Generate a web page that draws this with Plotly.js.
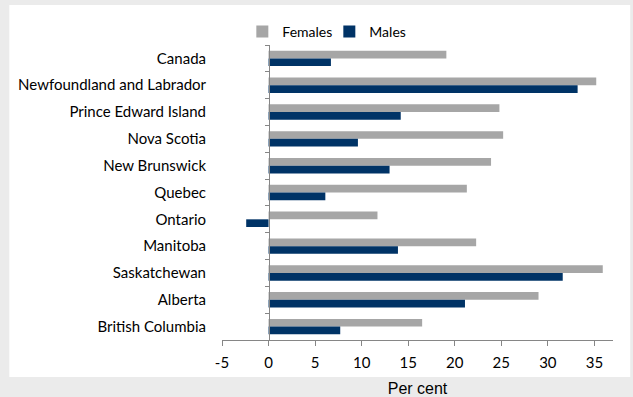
<!DOCTYPE html>
<html>
<head>
<meta charset="utf-8">
<script src="https://cdn.plot.ly/plotly-3.0.1.min.js"></script>
<style>
  html, body { margin: 0; padding: 0; background: #ebebeb; }
  #chart { width: 633px; height: 397px; }
</style>
</head>
<body>
<div id="chart"></div>
<script>
// Provinces, top to bottom
const categories = [
  "Canada",
  "Newfoundland and Labrador",
  "Prince Edward Island",
  "Nova Scotia",
  "New Brunswick",
  "Quebec",
  "Ontario",
  "Manitoba",
  "Saskatchewan",
  "Alberta",
  "British Columbia"
];

// Per cent values
const females = [19.1, 35.2, 24.8, 25.2, 23.9, 21.3, 11.7, 22.3, 35.9, 29.0, 16.5];
const males   = [6.7, 33.2, 14.2, 9.6, 13.0, 6.1, -2.4, 13.9, 31.6, 21.1, 7.7];

// Axis settings
const xRange = [-5, 37];
const xTicks = [-5, 0, 5, 10, 15, 20, 25, 30, 35];

const labelFont = { family: "Lato, 'Open Sans', sans-serif", size: 15, color: "#000" };
const legendFont = { family: "Lato, 'Open Sans', sans-serif", size: 14, color: "#000" };
const axisColor = "#868686";

// Category boundaries for the tick marks on the zero line
const boundaries = [];
for (let i = 0; i <= categories.length; i++) boundaries.push(i - 0.5);

// Position of x = 0 as a fraction of the plot width
const zeroPos = (0 - xRange[0]) / (xRange[1] - xRange[0]);

const traces = [
  {
    type: "bar", orientation: "h", name: "Females",
    y: categories, x: females,
    marker: { color: "#a6a6a6" },
    hoverinfo: "x+y"
  },
  {
    type: "bar", orientation: "h", name: "Males",
    y: categories, x: males,
    marker: { color: "#003366" },
    hoverinfo: "x+y"
  },
  {
    // carries the zero-line axis
    type: "scatter", mode: "none", x: [], y: [],
    yaxis: "y2", showlegend: false, hoverinfo: "skip"
  }
];

const layout = {
  width: 633, height: 397,
  margin: { l: 222, r: 20, t: 45, b: 57, pad: 0 },
  paper_bgcolor: "#ebebeb",
  plot_bgcolor: "#ffffff",
  barmode: "group",
  bargap: 0.425,
  bargroupgap: 0,
  showlegend: true,
  legend: {
    orientation: "h", traceorder: "normal",
    x: 0.052, xanchor: "left", y: 1.044, yanchor: "middle",
    font: legendFont, bgcolor: "rgba(0,0,0,0)",
    itemwidth: 30, entrywidth: 42, entrywidthmode: "pixels"
  },
  xaxis: {
    range: xRange, tickvals: xTicks, ticktext: xTicks.map(String),
    showgrid: false, zeroline: false,
    showline: true, linecolor: axisColor, linewidth: 1,
    ticks: "outside", ticklen: 5, tickcolor: axisColor,
    tickfont: labelFont, ticklabelstandoff: 4,
    title: { text: "Per cent", font: { family: "'Liberation Sans', Arial, sans-serif", size: 16, color: "#000" }, standoff: 15 },
    fixedrange: true
  },
  yaxis: {
    type: "category", categoryorder: "array", categoryarray: categories,
    range: [categories.length - 0.5, -0.5],
    showgrid: false, zeroline: false, showline: false,
    ticks: "outside", ticklen: 12, tickcolor: "rgba(0,0,0,0)",
    tickfont: labelFont,
    fixedrange: true
  },
  yaxis2: {
    overlaying: "y", anchor: "free", position: zeroPos, side: "left",
    range: [categories.length - 0.5, -0.5],
    tickvals: boundaries, showticklabels: false,
    ticks: "outside", ticklen: 4, tickcolor: axisColor,
    showline: true, linecolor: axisColor, linewidth: 1,
    showgrid: false, zeroline: false, fixedrange: true
  },
  shapes: [
    {
      // white chart panel
      type: "rect", xref: "paper", yref: "paper",
      x0: -0.544, x1: 1.044, y0: -0.125, y1: 1.136,
      fillcolor: "#ffffff", line: { width: 0 }, layer: "below"
    }
  ]
};

Plotly.newPlot("chart", traces, layout, { displayModeBar: false, staticPlot: true });
</script>
</body>
</html>
